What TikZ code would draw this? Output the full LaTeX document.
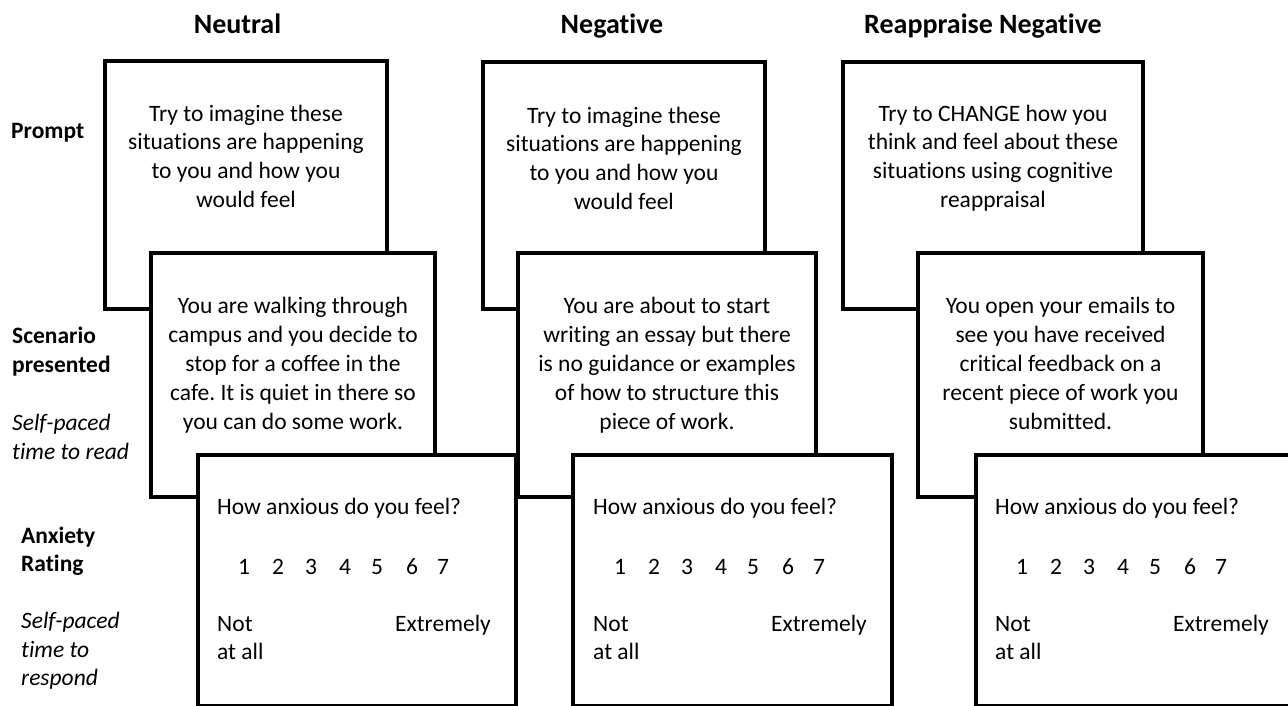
\documentclass[tikz,border=0pt]{standalone}
\usepackage{fontspec}
\setmainfont{Carlito}[Ligatures={NoCommon}]
\frenchspacing
\begin{document}
\tikzset{
  box/.style={draw=black, line width=4pt, fill=white, inner sep=0pt, outer sep=0pt, line join=miter},
  txt/.style={inner sep=0pt, anchor=base, font=\fontsize{23.5}{28.7}\selectfont},
  txtw/.style={inner sep=0pt, anchor=base west, font=\fontsize{23.5}{28.7}\selectfont},
  txte/.style={inner sep=0pt, anchor=base east, font=\fontsize{23.5}{28.7}\selectfont},
  lbl/.style={inner sep=0pt, anchor=base west, font=\fontsize{23.5}{28.7}\selectfont\bfseries},
  ilbl/.style={inner sep=0pt, anchor=base west, font=\fontsize{23.5}{28.7}\selectfont\itshape},
  ttl/.style={inner sep=0pt, anchor=base, font=\fontsize{28}{34}\selectfont\bfseries}
}
\begin{tikzpicture}[x=1pt,y=-1pt]
\useasboundingbox (0,0) rectangle (1288,705);
\fill[white] (0,0) rectangle (1288,705);
\clip (0,0) rectangle (1288,705);

% column titles
\node[ttl] (t1) at (237.5,33) {Neutral};
\node[ttl] (t2) at (612,33) {Negative};
\node[ttl] (t3) at (983,33) {Reappraise Negative};

% row labels
\node[lbl] (lp) at (11,138) {Prompt};
\node[lbl] (ls1) at (12,343) {Scenario};
\node[lbl] (ls2) at (12,372) {presented};
\node[ilbl] (ls3) at (12,430) {Self-paced};
\node[ilbl] (ls4) at (12,459) {time to read};
\node[lbl] (la1) at (21,543) {Anxiety};
\node[lbl] (la2) at (21,571) {Rating};
\node[ilbl] (la3) at (21,628) {Self-paced};
\node[ilbl] (la4) at (21,657) {time to};
\node[ilbl] (la5) at (21,685) {respond};

% prompt boxes
\node[box, minimum width=282pt, minimum height=248pt] (p1) at (246,185) {};
\node[box, minimum width=282pt, minimum height=247pt] (p2) at (624,185.5) {};
\node[box, minimum width=300pt, minimum height=247pt] (p3) at (993,185.5) {};
\foreach \t [count=\i] in {Try to imagine these,situations are happening,to you and how you,would feel}
  \node[txt] (pt1-\i) at (246,{121+(\i-1)*28.7}) {\t};
\foreach \t [count=\i] in {Try to imagine these,situations are happening,to you and how you,would feel}
  \node[txt] (pt2-\i) at (624,{123+(\i-1)*28.7}) {\t};
\foreach \t [count=\i] in {Try to CHANGE how you,think and feel about these,situations using cognitive,reappraisal}
  \node[txt] (pt3-\i) at (993,{121+(\i-1)*28.7}) {\t};

% scenario boxes
\node[box, minimum width=284pt, minimum height=244pt] (s1) at (293,375) {};
\node[box, minimum width=298pt, minimum height=244pt] (s2) at (667,375) {};
\node[box, minimum width=285pt, minimum height=244pt] (s3) at (1060.5,375) {};
\foreach \t [count=\i] in {You are walking through,campus and you decide to,stop for a coffee in the,cafe. It is quiet in there so,you can do some work.}
  \node[txt] (st1-\i) at (293,{313.5+(\i-1)*28.9}) {\t};
\foreach \t [count=\i] in {You are about to start,writing an essay but there,is no guidance or examples,of how to structure this,piece of work.}
  \node[txt] (st2-\i) at (667,{313.5+(\i-1)*28.9}) {\t};
\foreach \t [count=\i] in {You open your emails to,see you have received,critical feedback on a,recent piece of work you,submitted.}
  \node[txt] (st3-\i) at (1060.5,{313.5+(\i-1)*28.9}) {\t};

% rating boxes
\node[box, minimum width=318pt, minimum height=250.5pt] (r1) at (357,580.25) {};
\node[box, minimum width=319pt, minimum height=250.5pt] (r2) at (732.5,580.25) {};
\node[box, minimum width=316pt, minimum height=250.5pt] (r3) at (1134,580.25) {};
\foreach \c/\x in {1/217,2/593,3/995}{
  \node[txtw] (q\c) at (\x,514) {How anxious do you feel?};
  \foreach \d/\o in {1/27,2/61,3/94,4/128,5/160,6/195,7/226}
    \node[txt] (n\c-\d) at ({\x+\o},574.5) {\d};
  \node[txtw] (lo\c) at (\x,631) {Not};
  \node[txtw] (lo\c b) at (\x,659) {at all};
  \node[txte] (hi\c) at ({\x+274},631) {Extremely};
}
\end{tikzpicture}
\end{document}
